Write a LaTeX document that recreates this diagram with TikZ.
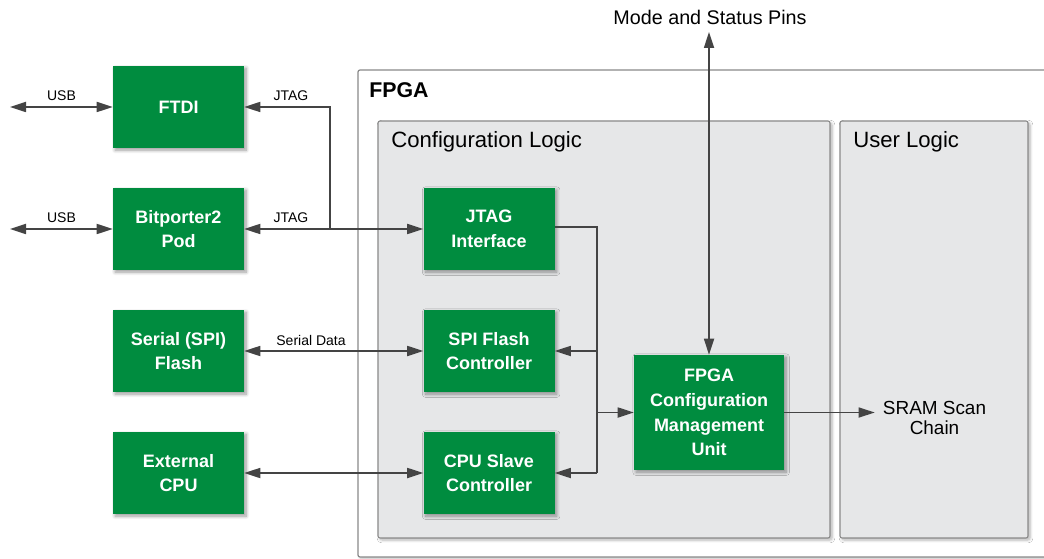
\documentclass[tikz,border=0pt]{standalone}
\usepackage{fontspec}
\setmainfont{Liberation Sans}
\usetikzlibrary{arrows.meta,shadows.blur}
\definecolor{fgreen}{HTML}{008C3F}
\definecolor{panelgray}{HTML}{E6E7E8}
\definecolor{edgegray}{HTML}{8A8A8A}
\definecolor{wire}{HTML}{444444}
\tikzset{
  block/.style={fill=fgreen, text=white, font=\bfseries\fontsize{13.5}{18.5}\selectfont,
    align=center, minimum width=131*0.75pt, minimum height=82*0.75pt, inner sep=0pt,
    blur shadow={shadow xshift=1.6pt, shadow yshift=-1.6pt, shadow blur steps=8, shadow blur radius=2.5pt, shadow opacity=40}},
  panel/.style={fill=panelgray, draw=edgegray, line width=0.8pt, rounded corners=1.5pt,
    blur shadow={shadow xshift=1.5pt, shadow yshift=-1.5pt, shadow blur steps=6, shadow opacity=30}},
  outer/.style={fill=white, draw=edgegray, line width=0.9pt, rounded corners=1.5pt,
    blur shadow={shadow xshift=1.5pt, shadow yshift=-1.5pt, shadow blur steps=6, shadow opacity=25}},
  wireline/.style={draw=wire, line width=1.3pt},
  tip/.tip={Triangle[length=12pt, width=7.5pt]},
  small/.style={font=\fontsize{10.5}{12}\selectfont, text=black, inner sep=0pt},
  heading/.style={font=\fontsize{16.6}{18}\selectfont, text=black, inner sep=0pt, anchor=base west},
}
\begin{document}
\begin{tikzpicture}[x=0.75pt, y=-0.75pt]
\useasboundingbox (0,0) rectangle (1044,559);
\clip (0,0) rectangle (1044,559);

% FPGA device outline and its two regions
\path[outer] (358,70) rectangle (1060,557);
\node[heading, font=\bfseries\fontsize{16}{18}\selectfont] (fpgalbl) at (369,97.5) {FPGA};
\path[panel] (378,121) rectangle (830,538);
\path[panel] (840,121) rectangle (1028,538);
\node[heading] (cfglbl) at (391,148) {Configuration Logic};
\node[heading] (usrlbl) at (853,148) {User Logic};

% external devices
\node[block] (ftdi) at (178.5,107) {FTDI};
\node[block] (bitp) at (178.5,229) {Bitporter2\\Pod};
\node[block] (flash) at (178.5,351) {Serial (SPI)\\Flash};
\node[block] (cpu) at (178.5,473) {External\\CPU};

% configuration logic blocks
\node[block] (jtag) at (489,229) {JTAG\\Interface};
\node[block] (spi) at (489,351) {SPI Flash\\Controller};
\node[block] (cpus) at (489,473) {CPU Slave\\Controller};
\node[block, minimum width=150*0.75pt, minimum height=115*0.75pt] (fcmu) at (709,412.5)
  {FPGA\\Configuration\\Management\\Unit};

% free text
\node[font=\fontsize{14.8}{17}\selectfont, inner sep=0pt, anchor=base] (mode) at (710,24.3) {Mode and Status Pins};
\node[font=\fontsize{14.2}{15}\selectfont, align=center, inner sep=0pt] (sram) at (934.5,418) {SRAM Scan\\Chain};

% connector end points
\coordinate (usbA) at (10,107);
\coordinate (usbB) at (10,229);
\coordinate (jsplit) at (330,229);
\coordinate (busT) at (597,227);
\coordinate (busB) at (597,473);
\coordinate (modetop) at (709,32);

% USB links
\draw[wireline, tip-tip] (usbA) -- (ftdi.west);
\draw[wireline, tip-tip] (usbB) -- (bitp.west);
\node[small] (usb1) at (61.5,96) {USB};
\node[small] (usb2) at (61.5,218) {USB};

% JTAG chain
\draw[wireline, tip-tip] (bitp.east) -- (jtag.west);
\draw[wireline, -tip] (jsplit) |- (ftdi.east);
\node[small] (jt1) at (291,96) {JTAG};
\node[small] (jt2) at (291,218) {JTAG};

% serial flash and CPU links
\draw[wireline, tip-tip] (flash.east) -- (spi.west);
\node[small] (sd) at (311,340) {Serial Data};
\draw[wireline, tip-tip] (cpu.east) -- (cpus.west);

% internal bus
\draw[wireline] (jtag.east |- busT) -- (busT) -- (busB);
\draw[wireline, -tip] (spi.east -| busT) -- (spi.east);
\draw[wireline, -tip] (busB) -- (cpus.east);
\draw[wireline, -tip] (busT |- fcmu.west) -- (fcmu.west);

% mode pins and scan chain
\draw[wireline, tip-tip] (modetop) -- (fcmu.north);
\draw[wireline, -tip] (fcmu.east) -- ([xshift=-6]sram.west |- fcmu.east);
\end{tikzpicture}
\end{document}
